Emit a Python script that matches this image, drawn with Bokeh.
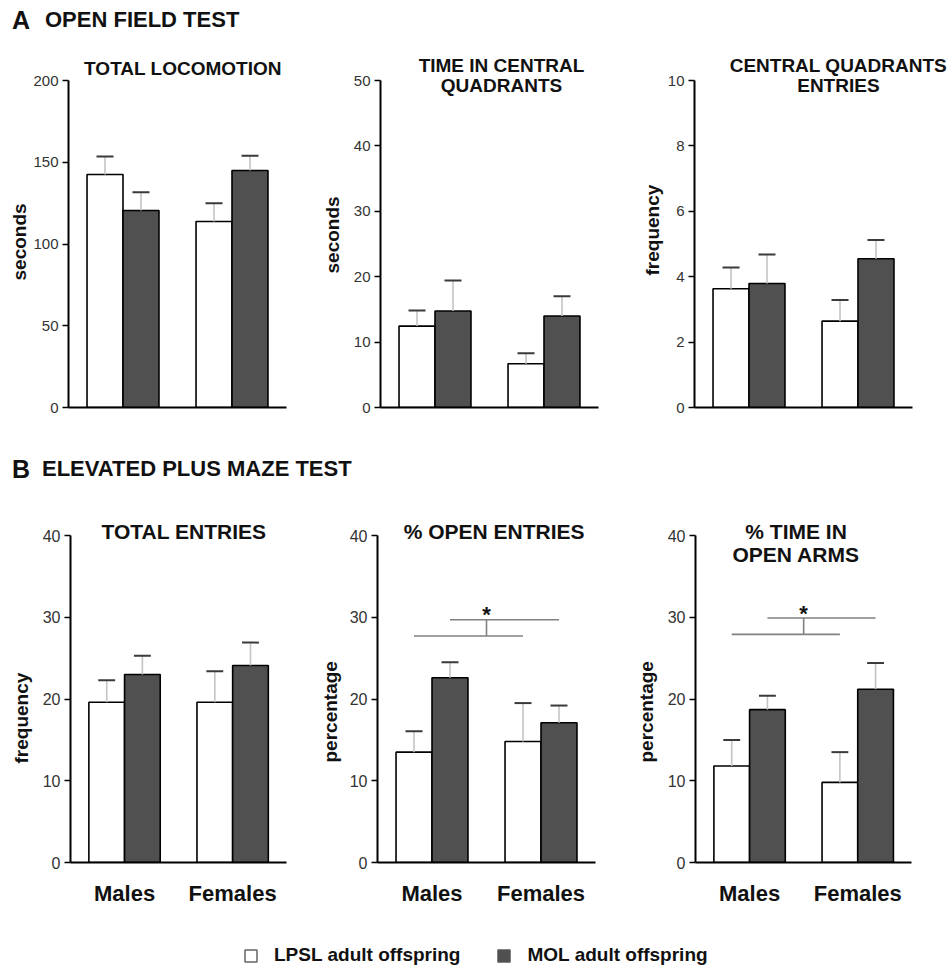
from bokeh.plotting import figure
from bokeh.models import (ColumnDataSource, Range1d, FixedTicker, Title,
                          Label, Legend, LegendItem, Div)
from bokeh.layouts import column, row
from bokeh.transform import dodge
from bokeh.embed import file_html
from bokeh.resources import INLINE

# ---------------- data ----------------
groups = ["Males", "Females"]
series = ["LPSL adult offspring", "MOL adult offspring"]

locomotion_lpsl = [142.5, 113.8]
locomotion_lpsl_sem = [11.0, 11.2]
locomotion_mol = [120.5, 145.0]
locomotion_mol_sem = [11.2, 9.0]

central_time_lpsl = [12.45, 6.7]
central_time_lpsl_sem = [2.4, 1.6]
central_time_mol = [14.75, 14.0]
central_time_mol_sem = [4.65, 3.0]

central_entries_lpsl = [3.63, 2.64]
central_entries_lpsl_sem = [0.65, 0.65]
central_entries_mol = [3.79, 4.55]
central_entries_mol_sem = [0.89, 0.57]

total_entries_lpsl = [19.6, 19.6]
total_entries_lpsl_sem = [2.7, 3.8]
total_entries_mol = [23.0, 24.1]
total_entries_mol_sem = [2.3, 2.8]

open_entries_lpsl = [13.5, 14.8]
open_entries_lpsl_sem = [2.55, 4.7]
open_entries_mol = [22.6, 17.1]
open_entries_mol_sem = [1.9, 2.1]

open_time_lpsl = [11.8, 9.8]
open_time_lpsl_sem = [3.2, 3.7]
open_time_mol = [18.7, 21.2]
open_time_mol_sem = [1.7, 3.2]

ticks_locomotion = [0, 50, 100, 150, 200]
ticks_central_time = [0, 10, 20, 30, 40, 50]
ticks_central_entries = [0, 2, 4, 6, 8, 10]
ticks_maze = [0, 10, 20, 30, 40]

# significance brackets (LPSL vs MOL group effect)
sig_low_open_entries, sig_high_open_entries = 27.7, 29.7
sig_low_open_time, sig_high_open_time = 27.9, 29.9

# ---------------- style / layout ----------------
FONT = "Liberation Sans"
DARK = "#505050"
OFF = 0.165       # half distance between paired bars (group units)
BAR_W = 0.33
CAP = 0.078
AXIS_H = 327      # pixel height of the 0..max part of the y axis
PX_PER_GROUP = 109
LEFT = 68

xpos = [i + 1 for i in range(len(groups))]


def make_panel(lpsl, lpsl_sem, mol, mol_sem, ticks, ylabel, ylab_offset,
               ylab_standoff, title_lines, title_x, title_offsets, title_size,
               tick_size, width, frame_h, border_bottom, show_x_labels,
               sig=None):
    ymax = ticks[-1]
    x_end = 0.5 + (width - LEFT) / PX_PER_GROUP
    p = figure(width=width, height=frame_h + border_bottom, title=None,
               x_range=Range1d(0.5, x_end),
               y_range=Range1d(0, ymax * frame_h / AXIS_H),
               output_backend="svg", toolbar_location=None,
               min_border_left=LEFT, min_border_right=0,
               min_border_top=0, min_border_bottom=border_bottom)
    p.outline_line_color = None
    p.xgrid.visible = False
    p.ygrid.visible = False
    p.background_fill_color = "white"
    p.border_fill_color = "white"

    src = ColumnDataSource(dict(
        xpos=xpos,
        lpsl=lpsl, lpsl_top=[v + e for v, e in zip(lpsl, lpsl_sem)],
        mol=mol, mol_top=[v + e for v, e in zip(mol, mol_sem)],
    ))
    for col, off, fill in (("lpsl", -OFF, "white"), ("mol", OFF, DARK)):
        p.vbar(x=dodge("xpos", off), top=col, width=BAR_W,
               fill_color=fill, line_color="black", line_width=1.6, source=src)
    for col, off in (("lpsl", -OFF), ("mol", OFF)):
        p.segment(x0=dodge("xpos", off), y0=col,
                  x1=dodge("xpos", off), y1=col + "_top",
                  line_color="#c4c4c4", line_width=1.6, source=src)
        p.segment(x0=dodge("xpos", off - CAP), y0=col + "_top",
                  x1=dodge("xpos", off + CAP), y1=col + "_top",
                  line_color="#3a3a3a", line_width=2, source=src)

    if sig is not None:
        low, high = sig
        bsrc = ColumnDataSource(dict(g0=[xpos[0]], g1=[xpos[1]],
                                     low=[low], high=[high], star=["*"]))
        p.segment(x0=dodge("g0", -OFF), y0="low", x1=dodge("g1", -OFF), y1="low",
                  line_color="#808080", line_width=1.6, source=bsrc)
        p.segment(x0=dodge("g0", OFF), y0="high", x1=dodge("g1", OFF), y1="high",
                  line_color="#808080", line_width=1.6, source=bsrc)
        p.segment(x0=dodge("g0", 0.5), y0="low", x1=dodge("g0", 0.5), y1="high",
                  line_color="#808080", line_width=1.6, source=bsrc)
        p.text(x=dodge("g0", 0.5), y="high", text="star",
               text_align="center", text_baseline="alphabetic", y_offset=-5,
               text_font={"value": FONT}, text_font_style="bold",
               text_font_size="22px", text_color="#111111", source=bsrc)

    # y axis, limited to 0..max
    yax = p.yaxis[0]
    yax.bounds = (0, ymax)
    yax.ticker = FixedTicker(ticks=ticks)
    yax.minor_tick_line_color = None
    yax.major_tick_in = 0
    yax.major_tick_out = 6
    yax.major_tick_line_width = 1.5
    yax.major_tick_line_color = "black"
    yax.axis_line_width = 2
    yax.axis_line_color = "black"
    yax.major_label_text_font = FONT
    yax.major_label_text_font_size = tick_size
    yax.major_label_text_color = "#333333"
    yax.major_label_standoff = 4

    # y label as a side title so it can be placed along the axis
    p.add_layout(Title(text=ylabel, align="left", offset=ylab_offset,
                       standoff=ylab_standoff, vertical_align="bottom",
                       text_font=FONT, text_font_style="bold",
                       text_font_size="19px", text_color="#111111"), "left")

    xax = p.xaxis[0]
    xax.bounds = (0.5, 2.5)
    xax.ticker = FixedTicker(ticks=xpos)
    xax.major_label_overrides = {x: g for x, g in zip(xpos, groups)}
    xax.axis_line_width = 2
    xax.axis_line_color = "black"
    xax.major_tick_line_color = None
    xax.minor_tick_line_color = None
    xax.major_tick_out = 0
    xax.major_tick_in = 0
    xax.major_label_text_font = FONT
    xax.major_label_text_font_style = "bold"
    xax.major_label_text_font_size = "22px"
    xax.major_label_standoff = 18
    xax.major_label_text_color = "#111111" if show_x_labels else None

    for line, dy in zip(title_lines, title_offsets):
        p.add_layout(Label(x=title_x, y=ymax, y_offset=dy, text=line,
                           text_align="center", text_baseline="middle",
                           text_font=FONT, text_font_style="bold",
                           text_font_size=title_size, text_color="#111111"))
    return p


def header(letter, text, height, top, text_left):
    html = (
        f'<div style="position:relative;width:940px;height:{height}px;'
        f'font-family:\'{FONT}\';font-weight:bold;color:#111;">'
        f'<span style="position:absolute;left:12px;top:{top}px;'
        f'font-size:25px;line-height:24px;">{letter}</span>'
        f'<span style="position:absolute;left:{text_left}px;top:{top}px;'
        f'font-size:22px;line-height:24px;white-space:nowrap;">{text}</span>'
        f'</div>'
    )
    return Div(text=html, width=951, height=height, margin=0)


TOP_FRAME, TOP_BB = 359, 31     # row 1: frame 48..407
BOT_FRAME, BOT_BB = 374, 56     # row 2: frame 488..862

p1 = make_panel(locomotion_lpsl, locomotion_lpsl_sem, locomotion_mol, locomotion_mol_sem,
                ticks_locomotion, "seconds", 127, 1,
                ["TOTAL LOCOMOTION"], 1.55, [12], "19px", "15px",
                312, TOP_FRAME, TOP_BB, False)
p2 = make_panel(central_time_lpsl, central_time_lpsl_sem, central_time_mol, central_time_mol_sem,
                ticks_central_time, "seconds", 134, 15,
                ["TIME IN CENTRAL", "QUADRANTS"], 1.61, [15, -5], "19px", "15px",
                314, TOP_FRAME, TOP_BB, False)
p3 = make_panel(central_entries_lpsl, central_entries_lpsl_sem, central_entries_mol, central_entries_mol_sem,
                ticks_central_entries, "frequency", 132, 4,
                ["CENTRAL QUADRANTS", "ENTRIES"], 1.82, [15, -5], "19px", "15px",
                325, TOP_FRAME, TOP_BB, False)

p4 = make_panel(total_entries_lpsl, total_entries_lpsl_sem, total_entries_mol, total_entries_mol_sem,
                ticks_maze, "frequency", 99, 16,
                ["TOTAL ENTRIES"], 1.55, [4], "21px", "16px",
                309, BOT_FRAME, BOT_BB, True)
p5 = make_panel(open_entries_lpsl, open_entries_lpsl_sem, open_entries_mol, open_entries_mol_sem,
                ticks_maze, "percentage", 100, 12,
                ["% OPEN ENTRIES"], 1.57, [4], "21px", "16px",
                316, BOT_FRAME, BOT_BB, True,
                sig=(sig_low_open_entries, sig_high_open_entries))
p6 = make_panel(open_time_lpsl, open_time_lpsl_sem, open_time_mol, open_time_mol_sem,
                ticks_maze, "percentage", 100, 16,
                ["% TIME IN", "OPEN ARMS"], 1.43, [4, -19], "21px", "16px",
                326, BOT_FRAME, BOT_BB, True,
                sig=(sig_low_open_time, sig_high_open_time))

head_a = header("A", "OPEN FIELD TEST", 48, 8, 45)
head_b = header("B", "ELEVATED PLUS MAZE TEST", 50, 19, 42)

# legend strip
lg = figure(width=951, height=48, x_range=Range1d(0, 1), y_range=Range1d(0, 1),
            output_backend="svg", toolbar_location=None, min_border=0, title=None)
lg.axis.visible = False
lg.xgrid.visible = False
lg.ygrid.visible = False
lg.outline_line_color = None
lsrc = ColumnDataSource(dict(l=[0.0], r=[1.0], t=[1.0], b=[0.0]))
r1 = lg.quad(left="l", right="r", top="t", bottom="b", source=lsrc,
             fill_color="white", line_color="#666666", line_width=1.5)
r2 = lg.quad(left="l", right="r", top="t", bottom="b", source=lsrc,
             fill_color=DARK, line_color="#555555", line_width=1.5)
r1.visible = False
r2.visible = False
legend = Legend(items=[LegendItem(label=series[0], renderers=[r1]),
                       LegendItem(label=series[1], renderers=[r2])],
                orientation="horizontal", location=(243, 0),
                glyph_width=15, glyph_height=15, label_standoff=16, spacing=36,
                padding=0, margin=0, border_line_color=None,
                background_fill_alpha=0,
                label_text_font=FONT, label_text_font_style="bold",
                label_text_font_size="19px", label_text_color="#111111")
lg.add_layout(legend)

layout = column(head_a, row(p1, p2, p3), head_b, row(p4, p5, p6), lg)

with open("out.html", "w") as f:
    f.write(file_html(layout, INLINE))
